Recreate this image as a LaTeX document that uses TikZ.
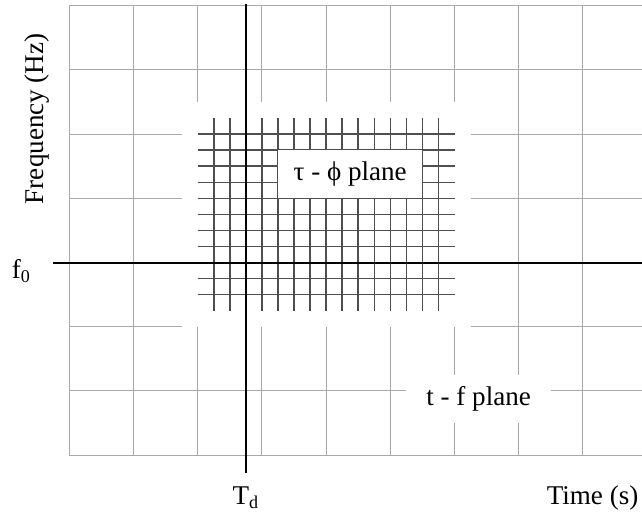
\documentclass[tikz,border=0pt]{standalone}
\usepackage{fontspec}
\setmainfont{Liberation Serif}
\usepackage{tikz}
\usetikzlibrary{positioning}

\begin{document}
\begin{tikzpicture}[
  coarse/.style={draw=black!34,line width=0.45pt},
  fine/.style={draw=black!69,line width=0.7pt},
  axis/.style={draw=black,line width=0.9pt},
  lbl/.style={font=\fontsize{12pt}{14pt}\selectfont,inner sep=0pt},
  gap/.style={lbl,fill=white,minimum width=2.25cm,minimum height=0.75cm}]
  \useasboundingbox (-3.83,-3.89) rectangle (6.17,4.09);
  % t-f plane grid
  \foreach \x in {-2.75,-1.75,...,5.25}
    \draw[coarse] (\x,-3) -- (\x,4);
  \foreach \y in {-3,...,4}
    \draw[coarse] (-2.75,\y) -- (6.17,\y);
  \fill[white] (-1,-1) rectangle (3.5,2.5);
  % tau-phi plane grid
  \foreach \x in {-0.5,-0.25,...,3.0}
    \draw[fine] (\x,-0.75) -- (\x,2.25);
  \foreach \y in {-0.5,-0.25,...,2.0}
    \draw[fine] (-0.75,\y) -- (3.25,\y);
  % axes
  \coordinate (left) at (-3,0);
  \coordinate (right) at (6.17,0);
  \coordinate (top) at (0,4.02);
  \coordinate (bottom) at (0,-3.27);
  \draw[axis] (left) -- (right);
  \draw[axis] (top) -- (bottom);
  % labels
  \node (tauphi) [gap] at (1.625,1.375) {\symbol{"03C4} - \symbol{"03D5} plane};
  \node (tf) [gap] at (3.625,-2.125) {t - f plane};
  \node (freq) [lbl,rotate=90] at (-3.26,2.24) {Frequency (Hz)};
  \node (fzero) [lbl,anchor=base] at (-3.495,-0.245) {f\textsubscript{0}};
  \node (td) [lbl,anchor=base] at (0,-3.765) {T\textsubscript{d}};
  \node (time) [lbl,anchor=base west] at (4.68,-3.765) {Time (s)};
\end{tikzpicture}
\end{document}
